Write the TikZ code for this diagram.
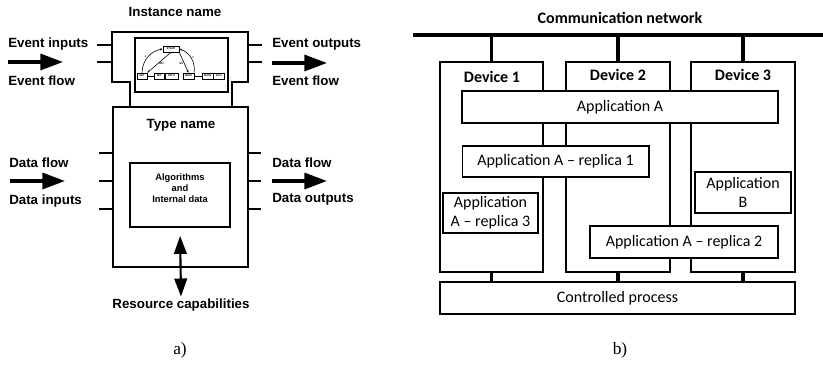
\documentclass[tikz,border=0pt]{standalone}
\usepackage{fontspec}
\setmainfont{Liberation Sans}
\newfontfamily\calibri{Carlito}
\newfontfamily\capfont{Liberation Serif}
\usepackage{tikz}
\usetikzlibrary{shapes,arrows,arrows.meta,positioning,decorations.pathreplacing}

\tikzset{
    % function block (left part)
    fbline/.style={line width=2.2pt, line join=miter},
    fbtick/.style={line width=2.2pt},
    fblabel/.style={font=\fontsize{10}{12}\selectfont\bfseries, inner sep=0pt},
    flowarrow/.style={line width=2.5pt, -{Triangle[length=17pt,width=12pt]}},
    resarrow/.style={line width=1.6pt, {Triangle[length=13.5pt,width=9.5pt]}-{Triangle[length=13.5pt,width=9.5pt]}},
    eccstate/.style={draw, line width=0.4pt, inner sep=0pt, minimum height=4.5pt,
        font=\fontsize{2}{2.4}\selectfont\bfseries},
    ecctrans/.style={line width=0.45pt, -{Stealth[length=2pt,width=1.6pt]}},
    ecclabel/.style={inner sep=0pt, font=\fontsize{2}{2.4}\selectfont\bfseries},
    % distributed system (right part)
    devbox/.style={draw, line width=1.6pt, inner sep=0pt, minimum height=157.5pt},
    appbox/.style={draw, fill=white, line width=1pt, inner sep=0pt, align=center,
        font=\calibri\fontsize{12}{14.5}\selectfont},
    devtitle/.style={inner sep=0pt, font=\calibri\fontsize{12}{14}\selectfont\bfseries},
    bus/.style={line width=3.2pt},
    drop/.style={line width=2.6pt},
    caption/.style={inner sep=0pt, font=\capfont\fontsize{13}{15}\selectfont}
}

\begin{document}
\begin{tikzpicture}[x=0.75pt, y=-0.75pt]
    \useasboundingbox (0,0) rectangle (823,364);

    % ---------------- a) function block ----------------
    \node[fblabel] (inst) at (175,12) {Instance name};

    % event head and neck, then the body
    \draw[fbline] (130,107) -- (130,82) -- (112,82) -- (112,32) -- (248,32)
        -- (248,82) -- (232,82) -- (232,107);
    \draw[fbline] (113,107) rectangle (248,267);

    % event and data connections
    \foreach \y in {45,62} {
        \draw[fbtick] (97,\y) -- (112,\y);
        \draw[fbtick] (248,\y) -- (262,\y);
    }
    \foreach \y in {153,181,209} {
        \draw[fbtick] (99,\y) -- (113,\y);
        \draw[fbtick] (248,\y) -- (261,\y);
    }

    % execution control chart inside the head
    \draw[line width=1.4pt] (135,38) rectangle (228,92);
    \node[eccstate, minimum width=12pt] (start) at (171,49) {START};
    \node[eccstate, minimum width=7.5pt] (init) at (142,76) {INIT};
    \node[eccstate, minimum width=7.5pt, anchor=west] (initA) at (154,76) {INIT};
    \node[eccstate, minimum width=9.75pt, anchor=west] (initB) at (initA.east) {INITO};
    \node[eccstate, minimum width=8pt] (main) at (188.5,76) {MAIN};
    \node[eccstate, minimum width=8pt, anchor=west] (mainA) at (202,76) {MAIN};
    \node[eccstate, minimum width=8pt, anchor=west] (mainB) at (mainA.east) {EXO};
    \draw[line width=0.4pt] (init) -- (initA);
    \draw[line width=0.4pt] (main) -- (mainA);
    \draw[ecctrans] (start.south) -- node[ecclabel, right=0.6pt, pos=0.55] {INIT} (init.north east);
    \draw[ecctrans] (init.north) to[bend left=40] node[ecclabel, above left=0.3pt, pos=0.45] {1} (start.west);
    \draw[ecctrans] (start.south east) -- node[ecclabel, left=0.6pt, pos=0.55] {EX} (main.north);
    \draw[ecctrans] (main.north east) to[bend right=40] node[ecclabel, above right=0.3pt, pos=0.45] {1} (start.east);

    \node[fblabel] (type) at (181,125) {Type name};

    % algorithms and internal data
    \node[draw, line width=1.4pt, minimum width=75pt, minimum height=48pt] (alg) at (180,195) {};
    \node[align=center, inner sep=0pt, font=\fontsize{7}{8}\selectfont\bfseries] (algtext) at (180,188)
        {Algorithms\\and\\Internal data};

    \node[fblabel] (res) at (181,305) {Resource capabilities};
    \draw[resarrow, shorten <=6pt, shorten >=1.5pt] (alg.south) -- (res.north);

    % inputs
    \node[fblabel, anchor=west] (evin) at (8,44) {Event inputs};
    \node[fblabel, anchor=west] (evinflow) at (8,81) {Event flow};
    \coordinate (evinS) at (8,62);
    \coordinate (evinE) at (63,62);
    \draw[flowarrow] (evinS) -- (evinE);
    \node[fblabel, anchor=west] (dtinflow) at (9,163) {Data flow};
    \node[fblabel, anchor=west] (dtin) at (9,201) {Data inputs};
    \coordinate (dtinS) at (10,181);
    \coordinate (dtinE) at (65,181);
    \draw[flowarrow] (dtinS) -- (dtinE);

    % outputs
    \node[fblabel, anchor=west] (evout) at (272,44) {Event outputs};
    \node[fblabel, anchor=west] (evoutflow) at (272,81) {Event flow};
    \coordinate (evoutS) at (272,63);
    \coordinate (evoutE) at (327,63);
    \draw[flowarrow] (evoutS) -- (evoutE);
    \node[fblabel, anchor=west] (dtoutflow) at (272,163) {Data flow};
    \node[fblabel, anchor=west] (dtout) at (272,199) {Data outputs};
    \coordinate (dtoutS) at (272,181);
    \coordinate (dtoutE) at (327,181);
    \draw[flowarrow] (dtoutS) -- (dtoutE);

    \node[caption] (capA) at (180,350) {a)};

    % ---------------- b) devices on a network ----------------
    \node[devtitle] (net) at (620,18) {Communication network};
    \coordinate (busW) at (413,35);
    \coordinate (busE) at (823,35);
    \draw[bus] (busW) -- (busE);

    \node[devbox, minimum width=77.25pt] (dev1) at (491.5,167) {};
    \node[devbox, minimum width=78pt] (dev2) at (618,167) {};
    \node[devbox, minimum width=78pt] (dev3) at (743,167) {};
    \node[devtitle] (dev1t) at (492,77) {Device 1};
    \node[devtitle] (dev2t) at (618,75) {Device 2};
    \node[devtitle] (dev3t) at (743,75) {Device 3};

    \node[appbox, minimum width=237pt, minimum height=24pt] (appA) at (620,107) {Application A};
    \node[appbox, minimum width=140pt, minimum height=23.25pt] (rep1) at (555.5,161.5) {Application A – replica 1};
    \node[appbox, minimum width=72pt, minimum height=30.75pt] (appB) at (743,192.5) {Application\\B};
    \node[appbox, minimum width=71.25pt, minimum height=30pt] (rep3) at (490.5,213) {Application\\A – replica 3};
    \node[appbox, minimum width=141pt, minimum height=24pt] (rep2) at (684,242) {Application A – replica 2};
    \node[appbox, minimum width=266.25pt, minimum height=24pt] (proc) at (617.5,298) {Controlled process};

    % links to the network and to the process
    \foreach \d in {dev1,dev2,dev3} {
        \draw[drop] (\d.north) -- (\d.north |- busW);
        \draw[drop] (\d.south) -- (\d.south |- proc.north);
    }

    \node[caption] (capB) at (620,350) {b)};
\end{tikzpicture}
\end{document}
